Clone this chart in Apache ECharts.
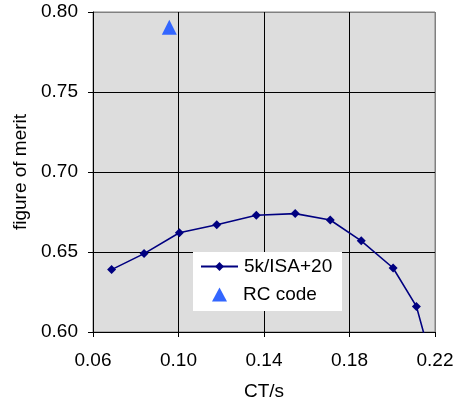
<!DOCTYPE html>
<html>
<head>
<meta charset="utf-8">
<script src="https://cdn.jsdelivr.net/npm/echarts@6/dist/echarts.min.js"></script>
<style>html,body{margin:0;padding:0;background:#fff}#c{width:461px;height:408px}</style>
</head>
<body>
<div id="c"></div>
<script>
const ctValues = [0.0687, 0.0839, 0.1004, 0.1179, 0.1364, 0.1546, 0.1710, 0.1855, 0.2004, 0.2113, 0.2220];
const fomValues = [0.639, 0.649, 0.662, 0.667, 0.673, 0.674, 0.670, 0.657, 0.640, 0.616, 0.564];
const rcCt = [0.0957];
const rcFom = [0.7905];
const seriesNames = ['5k/ISA+20', 'RC code'];
const xTicks = [0.06, 0.10, 0.14, 0.18, 0.22];
const yTicks = [0.60, 0.65, 0.70, 0.75, 0.80];

const font = '"Liberation Sans", Arial, sans-serif';
const chart = echarts.init(document.getElementById('c'), null, {renderer: 'canvas'});
const gridColors = yTicks.map((v, i) => i === yTicks.length - 1 ? '#808080' : '#000000');
const gridColorsX = xTicks.map((v, i) => i === xTicks.length - 1 ? '#808080' : '#000000');

chart.setOption({
  animation: false,
  backgroundColor: '#ffffff',
  grid: {
    left: 93, right: 26, top: 12, bottom: 76,
    show: true, backgroundColor: '#dddddd', borderColor: '#808080', borderWidth: 1
  },
  xAxis: {
    type: 'value',
    min: xTicks[0], max: xTicks[xTicks.length - 1], interval: 0.04,
    name: 'CT/s', nameLocation: 'middle', nameGap: 50,
    nameTextStyle: {fontFamily: font, fontSize: 19, color: '#000'},
    axisLine: {show: true, onZero: false, lineStyle: {color: '#000', width: 1}},
    axisTick: {show: true, inside: false, length: 5, lineStyle: {color: '#000'}},
    axisLabel: {fontFamily: font, fontSize: 19, color: '#000', margin: 19,
      formatter: v => v.toFixed(2)},
    splitLine: {show: true, lineStyle: {color: gridColorsX, width: 1}}
  },
  yAxis: {
    type: 'value',
    min: yTicks[0], max: yTicks[yTicks.length - 1], interval: 0.05,
    name: 'figure of merit', nameLocation: 'middle', nameGap: 59,
    nameTextStyle: {fontFamily: font, fontSize: 19, color: '#000'},
    axisLine: {show: true, onZero: false, lineStyle: {color: '#000', width: 1}},
    axisTick: {show: true, inside: false, length: 5, lineStyle: {color: '#000'}},
    axisLabel: {fontFamily: font, fontSize: 19, color: '#000', margin: 15,
      formatter: v => v.toFixed(2)},
    splitLine: {show: true, lineStyle: {color: gridColors, width: 1}}
  },
  graphic: [{
    type: 'rect', left: 193, top: 252, z: 3,
    shape: {width: 149, height: 59},
    style: {fill: '#ffffff'}
  }],
  legend: [{
    data: [seriesNames[0]],
    left: 200, top: 257, orient: 'vertical', padding: 0, z: 5,
    itemWidth: 37, itemHeight: 11, itemGap: 0,
    textStyle: {fontFamily: font, fontSize: 19, color: '#000', padding: [0, 0, 0, 1]}
  }, {
    data: [seriesNames[1]],
    left: 212, top: 285, orient: 'vertical', padding: 0, z: 5,
    itemWidth: 15, itemHeight: 14, itemGap: 0,
    itemStyle: {opacity: 1},
    textStyle: {fontFamily: font, fontSize: 19, color: '#000', padding: [0, 0, 0, 11]}
  }],
  series: [{
    name: seriesNames[0],
    type: 'line',
    data: ctValues.map((x, i) => [x, fomValues[i]]),
    symbol: 'diamond', symbolSize: 9,
    itemStyle: {color: '#000080'},
    lineStyle: {color: '#000080', width: 1.6},
    clip: true, z: 2
  }, {
    name: seriesNames[1],
    type: 'scatter',
    data: rcCt.map((x, i) => [x, rcFom[i]]),
    symbol: 'triangle', symbolSize: 15,
    itemStyle: {color: '#3366ff', opacity: 1},
    z: 2
  }]
});
</script>
</body>
</html>
